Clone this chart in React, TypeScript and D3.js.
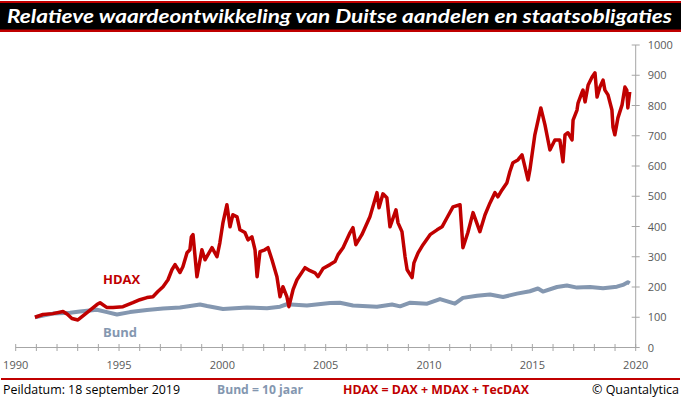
import { useEffect, useRef } from "react"
import * as d3 from "d3"

// chart data
const hdax: [number, number][] = [
  [1990.93, 100], [1991.32, 109], [1991.8, 112], [1992.29, 119], [1992.5, 110],
  [1992.72, 96], [1993.01, 91], [1993.45, 115], [1993.93, 142], [1994.08, 148],
  [1994.42, 132], [1994.71, 132], [1995.19, 135], [1995.67, 148], [1996.01, 158],
  [1996.35, 165], [1996.64, 168], [1996.88, 185], [1997.13, 201], [1997.37, 224],
  [1997.56, 257], [1997.71, 274], [1997.95, 248], [1998.09, 267], [1998.29, 313],
  [1998.43, 323], [1998.5, 366], [1998.58, 373], [1998.77, 234], [1999.01, 323],
  [1999.16, 290], [1999.5, 330], [1999.74, 300], [1999.88, 347], [2000.03, 413],
  [2000.22, 472], [2000.37, 399], [2000.51, 439], [2000.71, 432], [2000.85, 389],
  [2001.09, 380], [2001.24, 356], [2001.43, 366], [2001.58, 323], [2001.68, 234],
  [2001.82, 317], [2002.06, 323], [2002.21, 330], [2002.4, 290], [2002.64, 234],
  [2002.79, 168], [2002.93, 201], [2003.12, 168], [2003.22, 135], [2003.42, 191],
  [2003.61, 224], [2004.0, 264], [2004.24, 254], [2004.48, 247], [2004.63, 234],
  [2004.87, 261], [2005.21, 274], [2005.45, 284], [2005.6, 307], [2005.84, 330],
  [2006.18, 380], [2006.32, 396], [2006.46, 340], [2006.75, 373], [2007.14, 432],
  [2007.38, 488], [2007.48, 512], [2007.58, 462], [2007.77, 508], [2007.96, 495],
  [2008.11, 399], [2008.4, 455], [2008.5, 412], [2008.69, 383], [2008.84, 300],
  [2008.94, 257], [2009.18, 231], [2009.27, 280], [2009.47, 313], [2009.71, 340],
  [2010.05, 373], [2010.39, 389], [2010.63, 399], [2010.87, 429], [2011.16, 465],
  [2011.5, 472], [2011.64, 330], [2011.88, 380], [2012.13, 446], [2012.46, 383],
  [2012.71, 439], [2012.95, 478], [2013.19, 512], [2013.33, 498], [2013.53, 521],
  [2013.77, 545], [2013.91, 581], [2014.06, 611], [2014.3, 620], [2014.5, 637],
  [2014.64, 597], [2014.79, 554], [2014.88, 587], [2015.12, 703], [2015.41, 792],
  [2015.61, 736], [2015.85, 653], [2016.09, 686], [2016.33, 686], [2016.48, 614],
  [2016.58, 703], [2016.72, 710], [2016.92, 686], [2016.97, 752], [2017.16, 785],
  [2017.21, 808], [2017.41, 845], [2017.45, 851], [2017.55, 812], [2017.7, 868],
  [2017.89, 894], [2018.03, 908], [2018.13, 828], [2018.27, 861], [2018.42, 884],
  [2018.51, 851], [2018.66, 835], [2018.85, 785], [2018.9, 729], [2018.99, 703],
  [2019.14, 759], [2019.34, 802], [2019.48, 861], [2019.57, 851], [2019.62, 792],
  [2019.71, 845],
]

const bund: [number, number][] = [
  [1990.93, 100], [1991.8, 112], [1992.63, 115], [1993.11, 119], [1993.93, 125],
  [1994.42, 117], [1994.9, 109], [1995.53, 117], [1996.35, 124], [1997.13, 129],
  [1997.95, 132], [1998.92, 142], [1999.26, 137], [2000.03, 127], [2001.19, 132],
  [2002.16, 130], [2002.79, 135], [2003.12, 143], [2004.09, 139], [2005.21, 147],
  [2005.69, 148], [2006.32, 139], [2007.48, 135], [2008.21, 142], [2008.6, 136],
  [2009.09, 148], [2009.91, 145], [2010.53, 160], [2011.25, 145], [2011.64, 164],
  [2012.32, 171], [2012.95, 175], [2013.58, 167], [2014.26, 178], [2014.88, 186],
  [2015.27, 195], [2015.51, 185], [2016.19, 200], [2016.67, 205], [2017.16, 198],
  [2017.79, 200], [2018.42, 196], [2019.09, 201], [2019.38, 207], [2019.62, 216],
  [2019.71, 212],
]

const yTicks = [0, 100, 200, 300, 400, 500, 600, 700, 800, 900, 1000]
const xLabelYears = [1990, 1995, 2000, 2005, 2010, 2015, 2020]

const title = "Relatieve waardeontwikkeling van Duitse aandelen en staatsobligaties"

export default function App() {
  const ref = useRef<SVGSVGElement>(null)

  useEffect(() => {
    const svg = d3.select(ref.current)
    svg.selectAll("*").remove()

    const x = d3.scaleLinear().domain([1990, 2020]).range([15.7, 635.7])
    const y = d3.scaleLinear().domain([0, 1000]).range([347.5, 45])
    const axisColor = "#A6A6A6"
    const labelColor = "#595959"
    const font = "'Open Sans', sans-serif"

    // title bar
    svg.append("rect").attr("x", 0).attr("y", 1).attr("width", 681).attr("height", 31).attr("fill", "#C00000")
    svg.append("rect").attr("x", 0).attr("y", 3).attr("width", 681).attr("height", 26.5).attr("fill", "#000")
    svg.append("text")
      .attr("x", 7).attr("y", 23)
      .attr("textLength", 665).attr("lengthAdjust", "spacingAndGlyphs")
      .style("font-family", "Lato, sans-serif").style("font-size", "19px")
      .style("font-weight", 700).style("font-style", "italic")
      .attr("fill", "#fff")
      .text(title)

    // axes
    const ax = x(2020)
    svg.append("line").attr("x1", ax).attr("x2", ax).attr("y1", y(1000)).attr("y2", y(0))
      .attr("stroke", axisColor).attr("stroke-width", 1)
    svg.append("line").attr("x1", x(1990)).attr("x2", ax).attr("y1", y(0)).attr("y2", y(0))
      .attr("stroke", axisColor).attr("stroke-width", 1)

    yTicks.forEach(v => {
      svg.append("line").attr("x1", ax - 4).attr("x2", ax + 4).attr("y1", y(v)).attr("y2", y(v))
        .attr("stroke", axisColor)
      svg.append("text").attr("x", ax + 12).attr("y", y(v) + 4)
        .style("font-family", font).style("font-size", "11px").attr("fill", labelColor)
        .text(v)
    })

    d3.range(1990, 2021).forEach(yr => {
      svg.append("line").attr("x1", x(yr)).attr("x2", x(yr)).attr("y1", y(0) - 3.5).attr("y2", y(0) + 3.5)
        .attr("stroke", axisColor)
    })
    xLabelYears.forEach(yr => {
      svg.append("text").attr("x", x(yr)).attr("y", 369).attr("text-anchor", "middle")
        .style("font-family", font).style("font-size", "11px").attr("fill", labelColor)
        .text(yr)
    })

    // series
    const line = d3.line<[number, number]>().x(d => x(d[0])).y(d => y(d[1]))
    svg.append("path").attr("d", line(bund)).attr("fill", "none")
      .attr("stroke", "#8497B0").attr("stroke-width", 4).attr("stroke-linejoin", "round")
    svg.append("path").attr("d", line(hdax)).attr("fill", "none")
      .attr("stroke", "#C00000").attr("stroke-width", 3.5).attr("stroke-linejoin", "round")

    // inline labels
    svg.append("text").attr("x", 103).attr("y", 284)
      .style("font-family", font).style("font-size", "13px").style("font-weight", 700)
      .attr("fill", "#C00000").text("HDAX")
    svg.append("text").attr("x", 103).attr("y", 337)
      .style("font-family", font).style("font-size", "13px").style("font-weight", 700)
      .attr("fill", "#8497B0").text("Bund")

    // footer
    svg.append("rect").attr("x", 1).attr("y", 378).attr("width", 679).attr("height", 2).attr("fill", "#C00000")
    const foot = [
      { t: "Peildatum: 18 september 2019", x: 3, w: 177, c: "#000", b: 400 },
      { t: "Bund = 10 jaar", x: 217, w: 86, c: "#8497B0", b: 700 },
      { t: "HDAX = DAX + MDAX + TecDAX", x: 343, w: 186, c: "#C00000", b: 700 },
      { t: "© Quantalytica", x: 592, w: 87, c: "#000", b: 400 },
    ]
    foot.forEach(f => {
      svg.append("text").attr("x", f.x).attr("y", 394)
        .attr("textLength", f.w).attr("lengthAdjust", "spacingAndGlyphs")
        .style("font-family", font).style("font-size", "12.5px").style("font-weight", f.b)
        .attr("fill", f.c).text(f.t)
    })
  }, [])

  return (
    <svg
      ref={ref}
      width={681}
      height={399}
      style={{ position: "fixed", left: 0, top: 0, background: "#fff" }}
    />
  )
}
